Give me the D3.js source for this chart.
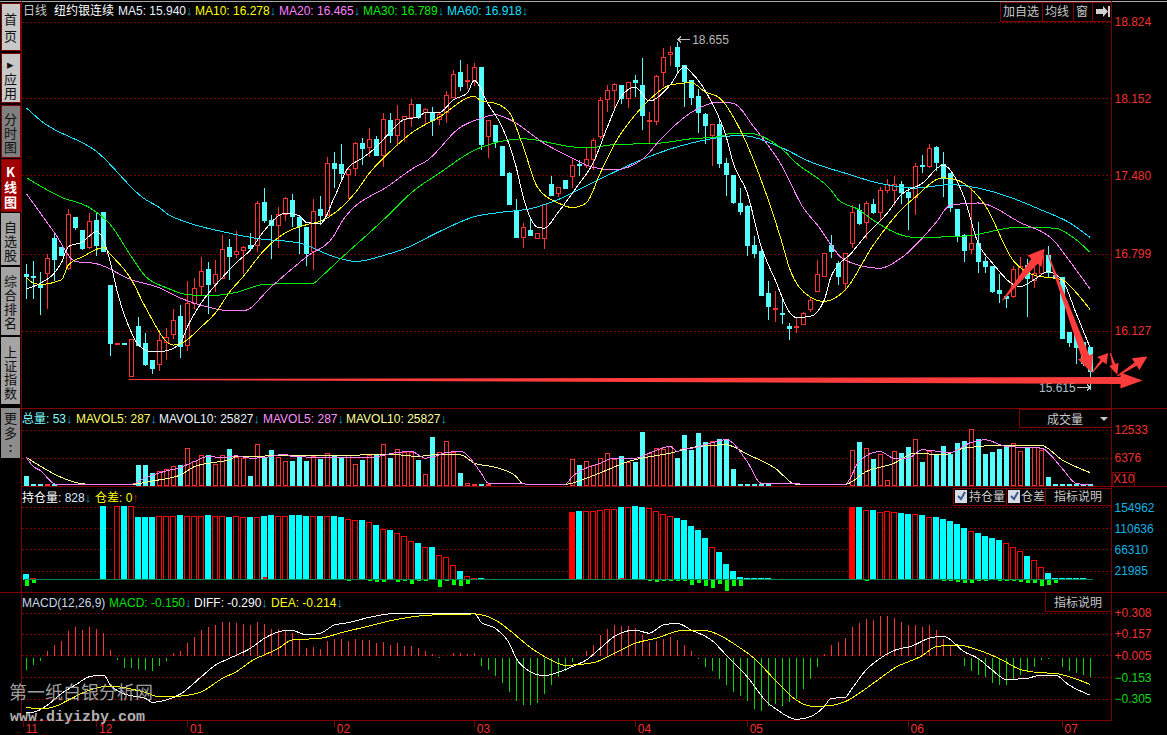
<!DOCTYPE html>
<html><head><meta charset="utf-8">
<script src="https://cdn.jsdelivr.net/npm/d3@7/dist/d3.min.js"></script>
<style>
html,body{margin:0;padding:0;background:#000;overflow:hidden}
svg{display:block}
text{font-family:"Liberation Sans","Noto Sans CJK SC",sans-serif;font-size:12px}
.cjk{font-family:"Noto Sans CJK SC",sans-serif}
.vert{writing-mode:vertical-rl;text-orientation:upright;font-size:13px}
</style></head><body>
<svg id="c" width="1167" height="735"></svg>
<script>
// ---------- candles ----------
const opens=[16.62,16.60,16.52,16.63,16.93,16.86,16.67,17.12,17.00,16.85,
17.09,17.16,16.52,16.01,16.02,15.73,16.17,16.02,15.87,15.83,
16.03,16.10,16.25,16.00,16.37,16.52,16.66,16.54,16.59,16.86,
16.79,16.83,16.87,16.87,17.25,17.09,17.04,17.14,17.27,17.12,
17.03,16.82,17.19,17.14,17.59,17.58,17.50,17.54,17.76,17.73,
17.80,17.66,17.96,17.83,17.97,17.99,18.10,18.03,18.03,17.98,
18.03,18.17,18.38,18.31,18.31,18.43,17.82,17.92,17.74,17.50,
17.18,16.94,17.00,16.94,16.93,17.41,17.33,17.44,17.47,17.58,
17.57,17.62,17.83,18.15,18.23,18.27,18.16,18.31,18.27,17.95,
17.96,18.38,18.54,18.60,18.44,18.31,18.17,18.02,17.83,17.93,
17.59,17.48,17.24,17.21,16.87,16.82,16.45,16.31,16.28,16.17,
16.16,16.18,16.31,16.47,16.60,16.87,16.72,16.54,16.89,17.18,
17.07,17.23,17.16,17.36,17.36,17.41,17.34,17.29,17.57,17.56,
17.73,17.58,17.50,17.19,16.96,16.84,16.89,16.73,16.69,16.48,
16.43,16.42,16.59,16.70,16.57,16.63,16.79,16.61,16.59,16.11,
16.11,16.03,15.98];
const closes=[16.60,16.59,16.50,16.76,16.75,16.79,17.14,17.03,16.84,17.08,
16.87,16.82,16.01,16.02,16.01,16.05,16.00,15.84,15.80,16.04,
16.07,16.22,15.99,16.37,16.50,16.65,16.53,16.62,16.84,16.78,
16.82,16.86,16.84,17.24,17.09,17.05,17.14,17.28,17.13,17.04,
16.80,17.17,17.14,17.59,17.55,17.50,17.54,17.76,17.72,17.80,
17.66,17.97,17.83,17.97,18.00,18.10,17.99,18.06,17.96,18.02,
18.18,18.37,18.26,18.31,18.43,17.76,17.96,17.78,17.49,17.23,
16.94,17.03,16.96,16.98,17.23,17.31,17.38,17.37,17.57,17.57,
17.62,17.79,18.14,18.23,18.28,18.16,18.30,18.29,18.01,17.96,
18.35,18.51,18.56,18.43,18.30,18.16,18.03,17.92,17.93,17.59,
17.49,17.24,17.17,16.87,16.80,16.44,16.34,16.32,16.27,16.15,
16.17,16.28,16.39,16.62,16.80,16.82,16.61,16.80,17.16,17.07,
17.24,17.16,17.35,17.41,17.41,17.34,17.30,17.56,17.56,17.72,
17.60,17.46,17.20,16.96,16.83,16.89,16.73,16.69,16.47,16.45,
16.41,16.66,16.69,16.59,16.63,16.79,16.64,16.59,16.06,16.02,
15.98,15.85,15.77];
const highs=[16.72,16.74,16.65,16.80,16.98,16.86,17.20,17.13,17.00,17.16,
17.17,17.16,16.52,16.02,16.02,16.05,16.25,16.11,15.87,16.14,
16.16,16.32,16.36,16.57,16.59,16.78,16.73,16.75,16.97,16.93,
17.00,16.87,16.99,17.27,17.38,17.14,17.21,17.30,17.33,17.14,
17.03,17.28,17.31,17.65,17.69,17.76,17.55,17.78,17.82,17.90,
17.83,18.03,18.03,18.10,18.01,18.16,18.11,18.08,18.09,18.04,
18.23,18.41,18.50,18.46,18.47,18.43,17.96,17.92,17.74,17.52,
17.28,17.07,17.11,16.98,17.24,17.48,17.38,17.44,17.64,17.62,
17.73,17.82,18.17,18.28,18.30,18.27,18.30,18.37,18.51,18.04,
18.37,18.60,18.62,18.655,18.44,18.31,18.24,18.03,17.93,17.99,
17.64,17.48,17.38,17.23,16.96,16.86,16.57,16.48,16.42,16.20,
16.25,16.30,16.42,16.75,16.80,16.97,16.74,16.80,17.23,17.24,
17.27,17.28,17.39,17.46,17.48,17.44,17.39,17.60,17.67,17.76,
17.75,17.69,17.50,17.20,16.98,17.38,17.08,16.78,16.69,16.63,
16.44,16.70,16.78,16.76,16.74,16.80,16.87,16.61,16.59,16.11,
16.11,16.03,15.98];
const lows=[16.41,16.41,16.27,16.32,16.57,16.79,16.66,17.01,16.84,16.85,
16.79,16.82,15.91,16.01,16.01,15.73,16.00,15.83,15.76,15.78,
15.88,16.06,15.90,15.96,16.32,16.44,16.28,16.47,16.59,16.58,
16.77,16.63,16.83,16.82,17.07,16.76,16.86,17.09,17.04,16.80,
16.70,16.66,17.06,17.14,17.38,17.43,17.28,17.48,17.58,17.65,
17.66,17.56,17.77,17.75,17.78,17.91,17.98,17.93,17.83,17.93,
17.95,18.17,18.23,18.24,18.27,17.71,17.64,17.73,17.49,17.23,
16.94,16.86,16.96,16.94,16.85,17.31,17.30,17.37,17.38,17.48,
17.55,17.54,17.81,18.04,18.07,18.11,18.08,18.17,17.89,17.76,
17.93,18.26,18.44,18.38,18.09,18.10,17.86,17.76,17.57,17.55,
17.31,17.24,17.14,16.79,16.77,16.44,16.23,16.21,16.19,16.05,
16.11,16.18,16.30,16.47,16.60,16.77,16.53,16.48,16.86,17.06,
16.93,17.15,17.10,17.34,17.22,17.24,17.01,17.14,17.51,17.55,
17.53,17.30,17.17,16.91,16.73,16.80,16.64,16.64,16.46,16.38,
16.33,16.42,16.59,16.25,16.51,16.63,16.60,16.59,16.06,15.99,
15.84,15.83,15.615];

// ---------- moving averages: read at the listed day numbers ----------
const ma5Days=[0,2,4,5,6,8,10,11,12,13,15,16,18,20,22,23,25,28,30,32,34,37,39,40,42,44,46,48,50,52,54,56,57,59,61,63,64,66,68,70,71,73,74,76,79,81,83,85,87,89,92,94,95,98,100,101,103,105,107,109,110,112,114,115,118,120,123,125,128,131,134,136,138,142,144,146,148,150,152];
const ma5=[16.49,16.54,16.63,16.72,16.86,16.90,16.99,16.92,16.72,16.46,16.11,16.00,15.94,15.95,16.02,16.16,16.37,16.59,16.72,16.83,17.00,17.15,17.13,17.07,17.06,17.29,17.55,17.63,17.73,17.86,17.97,17.99,18.03,18.03,18.14,18.20,18.31,18.10,17.90,17.55,17.29,17.03,17.02,17.16,17.41,17.59,17.90,18.17,18.25,18.13,18.27,18.43,18.38,18.11,17.82,17.59,17.33,16.86,16.57,16.29,16.24,16.25,16.39,16.60,16.81,16.96,17.15,17.31,17.41,17.57,17.29,16.89,16.72,16.51,16.57,16.64,16.57,16.28,15.98];
const ma10Days=[0,1,2,5,6,8,11,12,15,17,21,22,25,27,29,31,34,37,40,42,47,49,52,55,59,64,65,67,69,71,73,76,78,80,82,84,87,89,92,95,97,99,102,105,108,109,112,114,117,121,125,127,131,133,137,141,144,148,150,152];
const ma10=[16.59,16.54,16.53,16.57,16.70,16.77,16.85,16.79,16.57,16.33,16.00,16.01,16.16,16.28,16.46,16.60,16.83,16.98,17.05,17.08,17.33,17.50,17.69,17.85,17.99,18.17,18.13,18.11,18.03,17.73,17.38,17.24,17.20,17.24,17.50,17.75,18.01,18.14,18.27,18.29,18.21,18.16,17.88,17.44,16.89,16.68,16.42,16.38,16.48,16.87,17.18,17.29,17.46,17.44,17.22,16.74,16.61,16.57,16.46,16.31];
const ma20Days=[0,4,7,10,15,19,22,26,29,31,35,40,44,45,52,56,57,62,65,67,69,74,78,81,84,88,91,95,99,101,104,108,111,113,117,122,125,130,132,136,142,147,149,152];
const ma20=[17.32,16.98,16.73,16.71,16.57,16.50,16.41,16.33,16.30,16.30,16.51,16.77,16.96,17.07,17.40,17.57,17.60,17.90,17.98,18.01,17.97,17.76,17.63,17.55,17.53,17.62,17.82,18.03,18.12,18.11,17.90,17.56,17.20,17.05,16.74,16.67,16.76,17.07,17.22,17.24,17.07,16.90,16.74,16.49];
const ma30Days=[0,5,9,12,15,17,20,23,26,30,34,41,42,45,49,52,55,59,64,69,71,78,80,84,90,95,99,101,103,108,110,115,116,119,121,127,134,142,147,150,152];
const ma30=[17.46,17.29,17.20,17.05,16.77,16.60,16.50,16.44,16.43,16.46,16.53,16.54,16.59,16.76,16.98,17.15,17.33,17.50,17.70,17.79,17.80,17.73,17.72,17.75,17.76,17.80,17.82,17.85,17.85,17.71,17.59,17.35,17.27,17.18,17.09,16.94,16.95,17.03,17.02,16.92,16.81];
const ma60Days=[0,2,10,17,19,20,23,28,33,39,44,47,52,54,59,64,68,72,76,81,88,93,97,102,108,112,117,122,127,132,136,141,145,149,152];
const ma60=[18.07,17.96,17.69,17.27,17.20,17.15,17.07,16.99,16.93,16.89,16.77,16.73,16.80,16.84,16.99,17.12,17.16,17.19,17.27,17.42,17.62,17.73,17.79,17.83,17.72,17.60,17.50,17.41,17.37,17.40,17.37,17.28,17.18,17.07,16.94];

// ---------- volume ----------
const volume=[2250,450,450,450,450,225,225,225,225,225,225,225,225,225,225,225,
4725,4725,2850,3375,3825,4425,4725,8475,5625,6975,6975,4950,6975,8325,6600,6375,2250,9375,6225,8100,6600,5625,5625,6750,5700,6750,6075,7350,6975,6600,6975,4875,5850,6975,6975,9375,6375,8250,
7500,7500,5850,2625,10950,7500,10125,7500,2850,600,375,450,450,225,225,225,225,225,225,225,225,225,225,225,
6000,4725,5625,4725,6225,7350,6000,6750,5475,5325,12150,7350,8475,8250,8850,6225,11475,7950,11850,9900,10125,10575,10575,3825,450,450,450,450,450,225,225,225,225,225,225,225,225,225,225,225,
8100,9750,8475,6075,7200,1275,7800,7425,8775,10500,5400,7725,7125,9000,7200,9675,10125,12825,10500,7200,7650,8325,8850,9600,7800,8475,8700,8100,2025,450,450,450,450,450,450];
const mavol5Days=[0,1,2,4,5,15,17,20,22,24,26,28,30,32,34,37,38,44,49,53,55,57,59,60,62,65,66,77,78,82,84,87,89,92,93,94,95,97,100,103,105,117,119,122,124,126,128,132,135,137,140,145,148,150,152];
const mavol5=[6375,4350,3450,450,225,375,1875,3375,4125,5475,6600,6375,6750,6225,6375,7125,6600,6375,6375,7500,7725,6225,6975,7500,7725,2850,600,375,2100,5100,6225,6225,7350,8850,7725,8475,8475,9225,10350,5475,600,375,5475,7725,6225,6225,8100,7500,9750,10350,8850,8475,3975,600,225];
const mavol10Days=[0,9,15,18,22,24,26,29,30,53,56,58,62,64,67,70,71,77,80,83,86,88,92,96,100,103,107,110,117,120,124,127,131,134,139,145,148,152];
const mavol10=[6375,375,375,1125,2475,4350,5100,5850,6600,6975,6600,6975,6975,5100,4200,2100,450,375,1725,3600,5475,6225,7350,8850,9225,7125,3975,375,375,3225,5100,7350,6975,8475,9075,9075,5850,3000];

// ---------- open interest ----------
const openInterest=[15650,7200,5100,5100,5100,5100,5100,5100,0,0,0,157800,0,157800,157800,157800,
134600,134600,134600,136000,136000,136000,138800,136000,136000,136000,138800,136000,136000,134600,136000,133900,134600,133900,136700,138800,136000,136000,138800,138800,136700,136000,136700,136000,136700,134600,129600,127500,128200,123300,117700,109200,107100,100100,
93700,83200,79700,70500,71200,53600,49400,34600,20600,11400,7200,7200,5100,5100,5100,5100,5100,5100,5100,5100,0,0,0,0,
145100,147200,147200,147200,149300,150700,150700,155700,155700,157800,155700,152900,147200,140900,136000,132400,128200,115600,107100,90200,70500,60700,35400,20600,7900,5800,5800,5800,5800,0,0,0,0,0,0,0,0,0,0,0,
155700,155700,148600,149300,144400,146500,144400,143000,140900,140200,138800,133900,134600,130300,126100,119800,111300,104300,100800,94500,89500,86000,79000,70500,62100,52200,43100,28300,16400,5800,5800,5800,5800,5800,0];
const oiSolidDays=[78,118];
const oiRedDays=[1,140];
const oiDiffDays=[0,1,18,34,35,43,46,49,50,51,53,54,55,56,57,59,60,61,62,63,79,85,89,90,91,92,93,94,95,96,97,98,99,100,101,102,120,131,132,133,134,135,136,137,139,140,141,142,143,144,145,146,147,152];
const oiDiff=[-14080,-7040,2100,4900,2100,1400,-2100,-2100,-4900,-4900,-5600,-4200,-9900,-2100,-4200,-15500,-2100,-12000,-14100,-9900,2100,4200,-2100,-4900,-4200,-2100,-2100,-2100,-12000,-7700,-14100,-18300,-9900,-24600,-14100,-14100,-2100,-2100,-2100,-5600,-7700,-7700,-2100,-4200,-1400,-4200,-4200,-5600,-8400,-7700,-14100,-12000,-7700,700];

// ---------- MACD ----------
const macdHist=[-.091,-.055,-.026,.045,.088,.117,.189,.213,.196,.217,.198,.174,.053,-.022,-.079,-.079,-.088,-.093,-.103,-.065,-.026,.031,.041,.098,.146,.196,.213,.227,.253,.253,.244,.237,.232,.253,.239,.198,.198,.184,.170,.124,.062,.069,.060,.112,.127,.127,.117,.129,.124,.124,.098,.110,.088,.098,
.081,.081,.062,.045,.024,-.002,.010,.031,.031,.022,.031,-.062,-.091,-.134,-.189,-.253,-.318,-.342,-.342,-.327,-.263,-.198,-.141,-.098,-.036,.007,.045,.088,.160,.203,.232,.220,.220,.208,.155,.105,.117,.131,.146,.124,.088,.041,-.014,-.069,-.098,-.155,-.201,-.249,-.277,-.313,-.370,-.385,-.349,-.335,-.349,-.325,-.301,-.229,-.158,-.069,.022,.088,.110,.139,.213,.241,.270,.268,.292,.292,.280,.253,.227,.227,.217,.227,.196,.129,.086,.007,-.062,-.098,-.129,-.146,-.186,-.198,-.198,-.165,-.127,-.103,-.069,-.022,-.014,-.010,-.069,-.103,-.115,-.127,-.141];
const diffDays=[0,1,3,5,7,9,11,12,14,17,18,20,22,25,27,29,32,34,37,38,40,42,44,46,49,53,58,64,65,67,69,70,72,74,76,78,80,82,84,87,89,91,93,95,98,100,103,106,107,110,112,114,115,117,118,120,122,125,126,129,131,134,136,138,140,143,145,147,149,152];
const diffLine=[-.404,-.402,-.351,-.268,-.207,-.148,-.136,-.208,-.272,-.304,-.332,-.315,-.272,-.148,-.065,-.017,.055,.127,.182,.182,.151,.163,.222,.239,.277,.306,.301,.306,.241,.198,.091,-.017,-.112,-.141,-.117,-.076,-.029,.055,.139,.186,.163,.222,.234,.186,.110,.007,-.148,-.339,-.375,-.454,-.435,-.363,-.304,-.296,-.232,-.100,-.017,.055,.062,.127,.143,.031,-.017,-.100,-.167,-.160,-.136,-.136,-.208,-.280];
const deaDays=[0,2,4,6,9,12,15,17,19,22,25,28,30,32,36,38,42,45,49,53,58,64,67,69,72,75,77,81,84,87,90,94,97,99,101,104,107,110,112,114,117,120,122,124,128,130,133,136,139,142,145,147,149,152];
const deaLine=[-.368,-.378,-.363,-.315,-.244,-.215,-.237,-.261,-.293,-.287,-.256,-.160,-.112,-.041,.055,.115,.127,.167,.215,.263,.294,.301,.258,.186,.062,-.029,-.067,-.048,.019,.091,.127,.186,.182,.151,.091,-.017,-.172,-.315,-.358,-.358,-.327,-.232,-.160,-.088,.002,.067,.079,.043,-.017,-.096,-.120,-.124,-.148,-.203];

// ---------- axes ----------
const priceTicks=[18.824,18.152,17.480,16.799,16.127];
const volumeTicks=[12533,6376];
const oiTicks=[154962,110636,66310,21985];
const macdTicks=[.308,.157,.005,-.153,-.305];
const monthDays=[-0.5,10,23,44,64,87,103,126,148];
const monthLabels=["11","12","01","02","03","04","05","06","07"];

// ---------- hand-drawn red arrows: [from day, from price, to day, to price] ----------
const trendArrows=[[14.6,15.70,159.5,15.69],[139.5,16.39,145.5,16.84],[146,16.79,152.2,15.76],[152.3,15.76,154.6,15.93],[154.9,15.93,155.9,15.74],[155.9,15.73,160.2,15.90]];
const trendArrowShapes=[[1,7,22,8],[1,8,16,9],[1,8,17,8],[1,3,10,6],[1,3,11,5],[1,4,14,7]];

// ---------- text ----------
const sideLabels=["首页","▸应用","分时图","K线图","自选股","综合排名","上证指数","更多"];

// ==================================================================
const W=1167,H=735,L=21.5,R=1111.5;
const svg=d3.select("#c");
svg.append("rect").attr("width",W).attr("height",H).attr("fill","#000");
const DARK="#800000",GRID="#7a0000",RED="#ff3232",CYAN="#54ffff",OICYAN="#00ffff",GREEN="#00e000",
      AXRED="#f03030",AXBLUE="#14b4e4";
const x=d3.scaleLinear([0,152],[26.5,1090]);
const px=i=>Math.floor(x(i))+.5;
const yP=d3.scaleLinear([16.127,18.824],[330.5,21.5]);
const yV=d3.scaleLinear([0,12533],[486,430]);
const yO=d3.scaleLinear([21985,154962],[570.5,507.3]);
const yM=d3.scaleLinear([-.305,.308],[698.6,613]);
const snap=v=>Math.round(v)+.5;

const grid=svg.append("g").attr("shape-rendering","crispEdges");
function dotted(ticks,sc){
  grid.selectAll(null).data(ticks).join("line").attr("x1",L).attr("x2",R)
    .attr("y1",d=>snap(sc(d))).attr("y2",d=>snap(sc(d)))
    .attr("stroke",GRID).attr("stroke-dasharray","2 2");
}
dotted(priceTicks,yP);dotted(volumeTicks,yV);dotted(oiTicks,yO);dotted(macdTicks,yM);

// frame
const frame=svg.append("g").attr("shape-rendering","crispEdges").attr("stroke",DARK);
frame.append("line").attr("x1",0).attr("x2",W).attr("y1",1.5).attr("y2",1.5).attr("stroke","#a8a8a8");
[[L,1,L,720],[R,1,R,720],[0,408.5,W,408.5],[22,486.5,W,486.5],[0,592.5,W,592.5],[L,720.5,R,720.5]].forEach(a=>
  frame.append("line").attr("x1",a[0]).attr("y1",a[1]).attr("x2",a[2]).attr("y2",a[3]));

// ---- candles
const days=d3.range(opens.length);
const isUp=i=>closes[i]>=opens[i];
const cd=svg.append("g").attr("shape-rendering","crispEdges");
cd.selectAll("line").data(days).join("line")
  .attr("x1",px).attr("x2",px).attr("y1",i=>snap(yP(highs[i]))).attr("y2",i=>snap(yP(lows[i])))
  .attr("stroke",i=>isUp(i)?RED:CYAN);
cd.selectAll("rect").data(days).join("rect")
  .attr("x",i=>px(i)-2).attr("width",4)
  .attr("y",i=>snap(yP(Math.max(opens[i],closes[i]))))
  .attr("height",i=>Math.max(1,Math.round(Math.abs(yP(opens[i])-yP(closes[i])))))
  .attr("fill",i=>isUp(i)?"#000":CYAN).attr("stroke",i=>isUp(i)?RED:CYAN);

function knotLine(dayArr,valArr,sc,colour,sw){
  const g=d3.line().x(d=>x(d[0])).y(d=>sc(d[1])).curve(d3.curveMonotoneX);
  svg.append("path").attr("d",g(dayArr.map((d,k)=>[d,valArr[k]])))
    .attr("fill","none").attr("stroke",colour).attr("stroke-width",sw||1).attr("shape-rendering","crispEdges");
}
knotLine(ma60Days,ma60,yP,"#14e0ff");
knotLine(ma30Days,ma30,yP,"#00ee00");
knotLine(ma20Days,ma20,yP,"#ff80ff");
knotLine(ma10Days,ma10,yP,"#ffff00");
knotLine(ma5Days,ma5,yP,"#ffffff");

// ---- volume
const vg=svg.append("g").attr("shape-rendering","crispEdges");
vg.selectAll("rect").data(days).join("rect")
  .attr("x",i=>px(i)-2).attr("width",4)
  .attr("y",i=>snap(yV(volume[i]))).attr("height",i=>Math.max(0,485-snap(yV(volume[i]))+.5))
  .attr("fill",i=>isUp(i)?"#000":CYAN).attr("stroke",i=>isUp(i)?RED:CYAN);
knotLine(mavol10Days,mavol10,yV,"#ffff8c");
knotLine(mavol5Days,mavol5,yV,"#ff80ff");

// ---- open interest
const oiBase=579.5;
const og=svg.append("g").attr("shape-rendering","crispEdges");
const oiRed=i=>isUp(i)||oiRedDays.includes(i);
og.selectAll("rect").data(days.filter(i=>openInterest[i]>0)).join("rect")
  .attr("x",i=>px(i)-3).attr("width",5)
  .attr("y",i=>snap(yO(openInterest[i]))).attr("height",i=>oiBase-snap(yO(openInterest[i])))
  .attr("fill",i=>oiSolidDays.includes(i)?"#ff0000":oiRed(i)?"#000":OICYAN)
  .attr("stroke",i=>oiRed(i)?"#ff0000":OICYAN);
const diffH=v=>yO(0)-yO(Math.abs(v));
og.append("g").selectAll("rect").data(oiDiffDays.map((d,k)=>[d,oiDiff[k]])).join("rect")
  .attr("x",d=>px(d[0])-2).attr("width",4)
  .attr("y",d=>d[1]>0?oiBase-diffH(d[1]):oiBase)
  .attr("height",d=>Math.max(1,diffH(d[1])))
  .attr("fill",d=>d[1]>0?"#ff0000":"#00ff00");
og.append("line").attr("x1",x(0)-3).attr("x2",x(152)+3).attr("y1",oiBase).attr("y2",oiBase).attr("stroke","#008c50");

// ---- MACD
const mg=svg.append("g").attr("shape-rendering","crispEdges");
mg.selectAll("line").data(days).join("line")
  .attr("x1",px).attr("x2",px).attr("y1",i=>macdHist[i]>=0?snap(yM(0))-1:snap(yM(0))+1).attr("y2",i=>snap(yM(macdHist[i])))
  .attr("stroke",i=>macdHist[i]>=0?RED:"#00d800");
knotLine(diffDays,diffLine,yM,"#ffffff",1);
knotLine(deaDays,deaLine,yM,"#ffff00",1);

// ---- axes
function rightAxis(sc,ticks,fmt,col){
  const g=svg.append("g").attr("transform",`translate(${R},0)`)
    .call(d3.axisRight(sc).tickValues(ticks).tickFormat(fmt).tickSize(0).tickPadding(3));
  g.select(".domain").remove();
  g.selectAll("text").attr("font-size",12).attr("fill",col);
  return g;
}
rightAxis(yP,priceTicks,d3.format(".3f"),AXRED);
rightAxis(yV,volumeTicks,d3.format("d"),AXRED);
rightAxis(yO,oiTicks,d3.format("d"),AXBLUE);
rightAxis(yM,macdTicks,d3.format("+.3f"),d=>d>=0?AXRED:"#10d810");
const xa=svg.append("g").attr("transform","translate(0,720)")
  .call(d3.axisBottom(x).tickValues(monthDays).tickFormat((d,i)=>monthLabels[i]).tickSize(7));
xa.select(".domain").remove();
xa.selectAll("line").attr("stroke",DARK).attr("shape-rendering","crispEdges");
xa.selectAll("text").attr("text-anchor","start").attr("x",2).attr("y",4.5).attr("font-size",12).attr("fill",AXRED);

// ---- legends
function legend(xp,yp,parts){
  const t=svg.append("text").attr("x",xp).attr("y",yp);
  parts.forEach(p=>{
    const s=t.append("tspan").text(p[0]).attr("fill",p[1]);
    if(p[0]==="↓"||p[0]==="↑")s.attr("font-weight","bold").attr("style","font-size:13px");
  });
}
const AR="#0fa0c8";
legend(23,15,[["日线","#c8c8c8"]]);
legend(54,15,[["纽约银连续","#ffffff"]]);
legend(118,15,[["MA5: 15.940","#e8f4ff"],["↓",AR]]);
legend(195,15,[["MA10: 16.278","#ffff00"],["↓",AR]]);
legend(279,15,[["MA20: 16.465","#ff80ff"],["↓",AR]]);
legend(363,15,[["MA30: 16.789","#00ee00"],["↓",AR]]);
legend(447,15,[["MA60: 16.918","#14e0ff"],["↓",AR]]);
legend(22,423,[["总量","#80ffff"],[": 53","#80ffff"],["↓",AR]]);
legend(76,423,[["MAVOL5: 287","#ffff60"],["↓",AR]]);
legend(159,423,[["MAVOL10: 25827","#e8f4ff"],["↓",AR]]);
legend(263,423,[["MAVOL5: 287","#ff90ff"],["↓",AR]]);
legend(346,423,[["MAVOL10: 25827","#ffff99"],["↓",AR]]);
legend(22,502,[["持仓量","#ffffff"],[": 828","#d8ecff"],["↓",AR]]);
legend(95,502,[["仓差: 0","#ffff00"],["↑","#c02020"]]);
legend(22,607,[["MACD(12,26,9)","#c8d8e8"]]);
legend(109,607,[["MACD: -0.150","#00e000"],["↓",AR]]);
legend(194,607,[["DIFF: -0.290","#ffffff"],["↓",AR]]);
legend(271,607,[["DEA: -0.214","#ffff00"],["↓",AR]]);

// ---- high / low annotation
svg.append("path").attr("d",`M${x(93)+1} 39.5H${x(93)+13}M${x(93)+4} 36.5L${x(93)+1} 39.5L${x(93)+4} 42.5`)
  .attr("stroke","#c0c0c0").attr("fill","none").attr("shape-rendering","crispEdges");
svg.append("text").attr("x",x(93)+15).attr("y",44).attr("fill","#b8b8b8").text(d3.format(".3f")(highs[93]));
svg.append("text").attr("x",x(152)-51).attr("y",392).attr("fill","#b0c0d0").text(d3.format(".3f")(lows[152]));
svg.append("path").attr("d",`M${x(152)-13} 387.5H${x(152)}M${x(152)-3} 384.5L${x(152)} 387.5L${x(152)-3} 390.5`)
  .attr("stroke","#c0c0c0").attr("fill","none").attr("shape-rendering","crispEdges");

// ---- red arrows
function arrowPts(a,s){
  const x0=x(a[0]),y0=yP(a[1]),x1=x(a[2]),y1=yP(a[3]);
  const len=Math.hypot(x1-x0,y1-y0),ux=(x1-x0)/len,uy=(y1-y0)/len,nx=-uy,ny=ux;
  const bx=x1-ux*s[2],by=y1-uy*s[2];
  return [[x0+nx*s[0]/2,y0+ny*s[0]/2],[bx+nx*s[1]/2,by+ny*s[1]/2],[bx+nx*s[3],by+ny*s[3]],[x1,y1],
          [bx-nx*s[3],by-ny*s[3]],[bx-nx*s[1]/2,by-ny*s[1]/2],[x0-nx*s[0]/2,y0-ny*s[0]/2]];
}
svg.append("g").selectAll("polygon").data(trendArrows).join("polygon")
  .attr("points",(a,k)=>arrowPts(a,trendArrowShapes[k]).map(p=>p.join(",")).join(" "))
  .attr("fill","#ff3c3c");

// ---- right-hand buttons
const btn=svg.append("g");
function box(x0,y0,x1,y1){btn.append("rect").attr("x",x0+.5).attr("y",y0+.5).attr("width",x1-x0).attr("height",y1-y0)
  .attr("fill","#000").attr("stroke",DARK).attr("shape-rendering","crispEdges");}
function label(xp,yp,s,col,anchor){btn.append("text").attr("class","cjk").attr("x",xp).attr("y",yp).attr("fill",col||"#c8c8c8")
  .attr("text-anchor",anchor||"middle").text(s);}
box(1000,2,1042,21);box(1042,2,1073,21);box(1073,2,1092,21);box(1092,2,1111,21);
label(1021,16,"加自选");label(1057,16,"均线");label(1082,16,"窗");
btn.append("path").attr("d","M1096 9h7v-3l5 5.5-5 5.5v-3h-7z M1108 6h2v11h-2z").attr("fill","#d0d0d0");
box(1019,409,1111,427);label(1065,424,"成交量");
btn.append("path").attr("d","M1100 417h8l-4 4z").attr("fill","#c8c8c8");
box(1112,472,1134,486);
btn.append("text").attr("x",1113).attr("y",483).attr("fill",AXRED).text("X10");
box(953,488,1006,505);box(1006,488,1045,505);box(1045,488,1111,505);
label(969,501,"持仓量","#c8c8c8","start");label(1021,501,"仓差","#c8c8c8","start");label(1078,501,"指标说明");
[955,1008].forEach(cx=>{
  btn.append("rect").attr("x",cx).attr("y",490).attr("width",12).attr("height",13).attr("fill","#d8dce4");
  btn.append("path").attr("d",`M${cx+3} 496l3 3 4-7`).attr("fill","none").attr("stroke","#3a5a90").attr("stroke-width",2);
});
box(1045,592,1111,611);label(1078,607,"指标说明");

// ---- left sidebar
const sideTops=[3,53,105,159,213,267,337,408];
const sideBots=[50,102,157,211,265,335,404,458];
const sideFills=["#c8c8c8","#c8c8c8","#808080","#a00000","#a4a4a4","#a4a4a4","#a4a4a4","#8c8c8c"];
const sideStart=[13,57,113,166,221,275,346,412];
const sidePitch=[17,14,14,15,14,14,13.5,15];
const side=svg.append("g");
sideLabels.forEach((b,k)=>{
  side.append("rect").attr("x",1).attr("y",sideTops[k]).attr("width",19).attr("height",sideBots[k]-sideTops[k])
    .attr("fill",sideFills[k]).attr("stroke",k<4?DARK:"none").attr("shape-rendering","crispEdges");
  side.append("text").attr("class","cjk vert").attr("x",10.5).attr("y",sideStart[k])
    .attr("letter-spacing",sidePitch[k]-13).attr("font-weight",k==3?"bold":"normal")
    .attr("fill",k==3?"#fff":"#111").text(b);
});
side.append("text").attr("x",10.5).attr("y",452).attr("text-anchor","middle").attr("fill","#111").attr("font-weight","bold").text(":");

// ---- watermark
svg.append("text").attr("class","cjk").attr("x",9).attr("y",699).attr("fill","#b4b4b4").attr("fill-opacity",.9).attr("style","font-size:18px").text("第一纸白银分析网");
svg.append("text").attr("x",10).attr("y",721).attr("fill","#b0b0b0").attr("style","font:bold 15px 'Liberation Mono',monospace").text("www.diyizby.com");
</script>
</body></html>
